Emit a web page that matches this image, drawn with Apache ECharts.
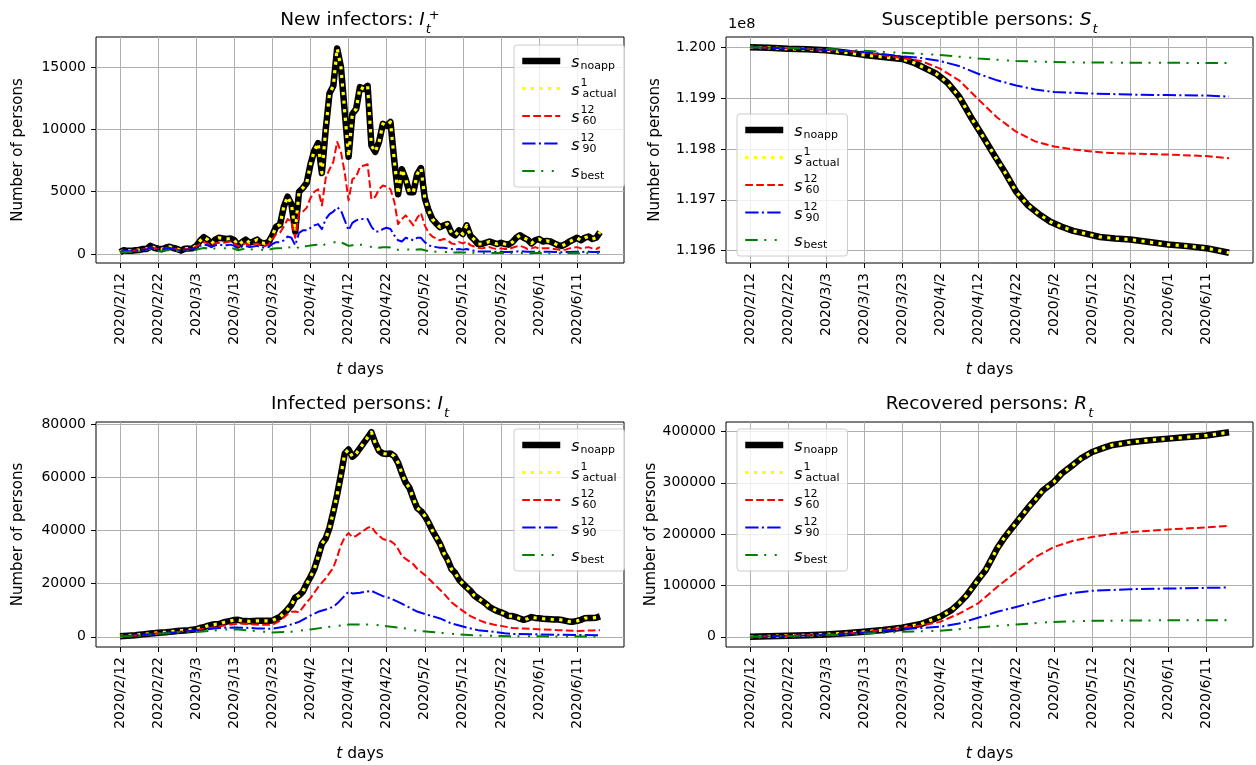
<!DOCTYPE html>
<html>
<head>
<meta charset="utf-8">
<script src="https://cdn.jsdelivr.net/npm/echarts@6/dist/echarts.min.js"></script>
<style>
html,body{margin:0;padding:0;background:#ffffff;}
#chart{width:1256px;height:765px;}
</style>
</head>
<body>
<div id="chart"></div>
<script>
// ---------------- DATA ----------------
const startYear = 2020, startMonth = 2, startDay = 12;     // day 0 = 2020/2/12
const xTickDays = [0,10,20,30,40,50,60,70,80,90,100,110,120];
const seriesNames = ['noapp','actual','s60','s90','best'];

// Panel 1: New infectors I_t^+ (daily, day 0..126)
const newInf_noapp = [150,300,250,250,300,320,400,400,650,500,
 420,380,500,580,480,400,270,420,430,450,
 650,1050,1350,1150,800,1150,1300,1250,1200,1250,
 1100,700,950,1150,900,1000,1150,900,850,950,
 1500,2200,2350,3800,4600,4000,1800,5000,5300,5700,
 7200,8300,8900,6500,10000,12900,13500,16500,15000,11400,
 7800,11250,11650,13400,13250,13500,8700,8200,9000,10450,
 10300,10600,7500,4800,6800,6000,4950,4950,6400,6900,
 4500,3500,2800,2450,2150,2300,2400,1700,1500,1900,
 1600,2300,1450,1150,800,800,900,1000,900,800,
 900,800,750,950,1300,1500,1300,1150,850,1100,
 1200,1000,1050,1000,850,700,650,800,1000,1150,
 1300,1100,1300,1400,1200,1300,1750];
const newInf_actual = [150,300,250,250,300,320,400,400,650,500,
 420,380,500,580,480,400,270,420,430,450,
 650,1050,1350,1150,800,1150,1300,1250,1200,1250,
 1100,700,950,1150,900,1000,1150,900,850,950,
 1500,2200,2350,3800,4600,4000,1800,5000,5300,5700,
 7200,8300,8900,6500,10000,12900,13500,16500,15000,11400,
 7800,11250,11650,13400,13250,13500,8700,8200,9000,10450,
 10300,10600,7500,4800,6800,6000,4950,4950,6400,6900,
 4500,3500,2800,2450,2150,2300,2400,1700,1500,1900,
 1600,2300,1450,1150,800,800,900,1000,900,800,
 900,800,750,950,1300,1500,1300,1150,850,1100,
 1200,1000,1050,1000,850,700,650,800,1000,1150,
 1300,1100,1300,1400,1200,1300,1750];
const newInf_s60 = [150,280,230,230,280,300,370,370,600,460,
 390,350,460,530,440,370,250,380,400,420,
 600,800,950,850,650,850,900,900,950,1000,
 850,600,750,850,700,800,850,700,650,750,
 1200,1600,1700,2200,2800,2600,1300,3300,3400,3700,
 4500,5000,5200,3900,6100,6800,7400,9000,8200,6500,
 4300,6000,6200,7000,7100,7200,4400,4600,5200,5500,
 5400,5200,4200,2400,2800,3100,2700,2300,2900,3300,
 2300,1700,1400,1250,1100,1200,1100,850,800,950,
 850,1000,700,600,500,450,500,550,450,400,
 450,400,400,500,600,650,550,400,450,550,
 450,450,450,450,400,350,300,350,450,500,
 550,450,500,550,450,400,550];
const newInf_s90 = [150,270,220,220,260,280,340,340,550,420,
 360,330,420,480,400,340,240,340,360,380,
 500,650,750,700,550,700,750,700,700,750,
 650,450,600,650,550,600,650,550,500,550,
 800,950,950,1100,1400,1300,700,1700,1900,1900,
 2100,2300,2400,2000,2800,3200,3400,3750,3500,2700,
 1900,2500,2700,2800,2800,2800,2200,1800,1800,2000,
 2100,2000,1500,1100,1000,1300,1200,1100,1300,1300,
 950,700,600,550,500,500,450,400,350,400,
 350,400,300,250,200,200,200,200,180,170,
 180,160,160,180,200,220,200,170,170,190,
 180,170,170,170,160,150,140,150,160,170,
 180,160,170,180,160,150,180];
const newInf_best = [100,180,160,160,180,190,230,230,350,280,
 240,220,280,320,270,230,170,230,250,260,
 330,420,480,450,360,450,480,460,450,480,
 420,300,380,420,350,380,400,340,320,340,
 420,450,450,500,550,520,300,600,620,630,
 680,720,740,650,800,880,920,1000,950,800,
 650,700,730,750,740,730,550,480,500,540,
 540,520,420,330,320,380,350,320,360,380,
 300,230,200,180,160,160,150,130,120,130,
 120,130,100,90,80,80,80,80,75,70,
 70,65,65,70,75,80,75,65,65,70,
 70,65,65,65,60,55,55,55,60,65,
 65,60,65,70,60,55,65];

// Panel 2: Susceptible persons S_t
const sus_noapp_days = [0,5,10,15,20,25,30,35,40,43,46,49,52,55,58,61,64,67,70,73,76,79,82,85,88,92,96,100,105,110,115,120,126];
const sus_noapp = [120000000,119999000,119997000,119996000,119994000,119990000,119985000,119981000,119977000,119970000,119959000,119948000,119930000,119903000,119864000,119828000,119791000,119755000,119716000,119690000,119672000,119657000,119647000,119639000,119634000,119627000,119624000,119622000,119617000,119612000,119609000,119605000,119596000];
const sus_actual_days = [0,5,10,15,20,25,30,35,40,43,46,49,52,55,58,61,64,67,70,73,76,79,82,85,88,92,96,100,105,110,115,120,126];
const sus_actual = [120000000,119999000,119997000,119996000,119994000,119990000,119985000,119981000,119977000,119970000,119959000,119948000,119930000,119903000,119864000,119828000,119791000,119755000,119716000,119690000,119672000,119657000,119647000,119639000,119634000,119627000,119624000,119622000,119617000,119612000,119609000,119605000,119596000];
const sus_s60_days = [0,10,20,30,40,45,50,55,60,65,70,75,80,85,90,95,100,110,120,126];
const sus_s60 = [120000000,119998000,119995000,119990000,119979000,119973000,119958000,119935000,119898000,119862000,119834000,119815000,119805000,119799000,119795000,119792000,119791000,119789000,119786000,119782000];
const sus_s90_days = [0,20,30,40,45,50,55,60,65,70,75,80,90,100,110,120,126];
const sus_s90 = [120000000,119995000,119991000,119982000,119979000,119973000,119963000,119948000,119935000,119925000,119917000,119912000,119909000,119907000,119906000,119905000,119903000];
const sus_best_days = [0,20,30,40,50,60,70,80,90,126];
const sus_best = [120000000,119997000,119993000,119989000,119985000,119978000,119973000,119971000,119970000,119969000];

// Panel 3: Infected persons I_t
const inf_noapp = [200,300,400,500,600,750,900,1050,1200,1350,
 1500,1600,1700,1850,2000,2150,2300,2400,2500,2650,
 2800,3300,3600,4100,4500,4700,4800,5300,5700,6000,
 6300,6400,5950,5900,5800,5900,6000,6000,6000,6000,
 6100,6800,7500,8800,10300,12000,14750,15600,17000,20000,
 22500,25500,30000,35000,37000,41000,47000,53500,61000,69000,
 70500,67800,69000,71000,73000,75000,77000,73000,70000,69000,
 68800,69000,68000,65500,61500,58000,56000,52000,48500,47300,
 45500,43000,40000,37500,35000,31500,29000,25500,24000,21500,
 20000,18600,17300,15500,14500,13500,12500,11200,10400,9700,
 9200,8600,7800,7800,7400,6800,6400,6800,7400,7100,
 7000,6800,6700,6600,6500,6500,6300,6000,5700,5700,
 6000,6400,7000,7100,7100,7200,7700];
const inf_actual = [200,300,400,500,600,750,900,1050,1200,1350,
 1500,1600,1700,1850,2000,2150,2300,2400,2500,2650,
 2800,3300,3600,4100,4500,4700,4800,5300,5700,6000,
 6300,6400,5950,5900,5800,5900,6000,6000,6000,6000,
 6100,6800,7500,8800,10300,12000,14750,15600,17000,20000,
 22500,25500,30000,35000,37000,41000,47000,53500,61000,69000,
 70500,67800,69000,71000,73000,75000,77000,73000,70000,69000,
 68800,69000,68000,65500,61500,58000,56000,52000,48500,47300,
 45500,43000,40000,37500,35000,31500,29000,25500,24000,21500,
 20000,18600,17300,15500,14500,13500,12500,11200,10400,9700,
 9200,8600,7800,7800,7400,6800,6400,6800,7400,7100,
 7000,6800,6700,6600,6500,6500,6300,6000,5700,5700,
 6000,6400,7000,7100,7100,7200,7700];
const inf_s60_days = [0,5,10,15,20,24,28,31,34,37,40,42,44,45,46,47,49,50,52,54,56,57,58,59,60,61,62,63,64,65,66,67,68,69,70,71,72,73,74,75,77,78,80,82,84,85,87,89,91,92,94,96,98,100,103,106,110,115,120,124,126];
const inf_s60 = [200,600,1300,1800,2500,3400,4400,5000,4800,4500,4500,6000,8500,9400,9500,9200,13000,14500,18700,22000,26000,30000,34500,37500,39000,37500,38000,39000,40000,41000,41500,39400,38000,36800,36400,36000,35000,33000,30500,29300,27300,25600,23300,20500,17700,16300,13000,10800,8700,7800,6400,5300,4600,4100,3300,3100,2800,2500,2200,2400,2500];
const inf_s90_days = [0,5,11,16,21,26,30,33,36,40,43,47,50,52,54,56,57,58,60,61,63,66,67,69,71,73,76,78,80,84,87,91,94,98,101,103,110,120,126];
const inf_s90 = [200,550,1250,1800,2500,3300,3500,3400,3150,3000,3750,5600,8000,9400,10250,11300,12500,14000,17000,16300,16600,17300,16600,15300,14500,13100,11000,9500,8600,6900,5000,3500,2500,1900,1300,1050,900,650,600];
const inf_best_days = [0,5,11,16,21,28,31,35,40,45,50,55,60,66,70,75,78,84,89,94,100,110,126];
const inf_best = [100,400,1250,1500,1900,2750,2700,2250,1600,1900,2750,3750,4600,4600,4000,3100,2250,1500,900,500,250,150,50];

// Panel 4: Recovered persons R_t
const rec_noapp_days = [0,5,10,15,20,25,30,35,40,45,50,53,55,57,60,62,65,67,70,73,75,77,80,82,85,87,90,93,95,100,105,110,115,120,126];
const rec_noapp = [0,800,2000,3000,4500,6800,9700,13000,17500,25000,39000,52000,65000,81000,111000,130000,172000,194000,222000,250000,267000,285000,302000,318000,335000,347000,360000,368000,373000,379000,383000,386000,389000,392000,398500];
const rec_actual_days = [0,5,10,15,20,25,30,35,40,45,50,53,55,57,60,62,65,67,70,73,75,77,80,82,85,87,90,93,95,100,105,110,115,120,126];
const rec_actual = [0,800,2000,3000,4500,6800,9700,13000,17500,25000,39000,52000,65000,81000,111000,130000,172000,194000,222000,250000,267000,285000,302000,318000,335000,347000,360000,368000,373000,379000,383000,386000,389000,392000,398500];
const rec_s60_days = [0,10,20,30,40,45,50,55,60,65,70,75,80,85,90,95,100,110,120,126];
const rec_s60 = [0,2000,4000,9000,17000,22000,29000,45000,65000,97000,126000,155000,175000,187000,194500,200000,204000,209000,213000,216000];
const rec_s90_days = [0,10,20,30,40,45,50,55,60,65,70,75,80,85,90,100,110,120,126];
const rec_s90 = [0,1500,3500,8000,15000,17000,19500,26000,37000,48600,58000,68000,78000,85500,89500,92700,94000,95300,96000];
const rec_best_days = [0,10,20,30,40,50,60,70,80,90,100,126];
const rec_best = [0,1200,3000,6000,9700,11700,18000,24000,29000,31000,31800,32400];

// tick labels of the y axes
const yTicksNew = [0,5000,10000,15000];
const yTicksSus = [119600000,119700000,119800000,119900000,120000000];
const yTicksInf = [0,20000,40000,60000,80000];
const yTicksRec = [0,100000,200000,300000,400000];

// ---------------- STYLE / LAYOUT ----------------
const F = 'DejaVu Sans';
const lineStyles = {
  noapp:  {color:'#000000', width:6.5, type:'solid'},
  actual: {color:'#ffff00', width:3.2, type:[3.2,5.4]},
  s60:    {color:'#ff0000', width:2,   type:[7.7,3.3]},
  s90:    {color:'#0000ff', width:2,   type:[13.3,3.3,2.1,3.3]},
  best:   {color:'#008000', width:2,   type:[12.5,6.5,2,8.5,2,6.5]}
};
const grids = [
  {left:96,  top:37,  width:528, height:226},
  {left:726, top:37,  width:527, height:226},
  {left:96,  top:422, width:528, height:225},
  {left:726, top:422, width:527, height:225}
];
const yRanges = [[-725,17425],[119575800,120020200],[-3850,80850],[-19925,418400]];
const yTicks = [yTicksNew, yTicksSus, yTicksInf, yTicksRec];
const legendPos = [[514,45],[737,114],[514,429],[737,429]];
const yNameGaps = [70, 63, 70, 63];

function dayLabel(d){
  const dt = new Date(Date.UTC(startYear, startMonth-1, startDay + Math.round(d)));
  return dt.getUTCFullYear() + '/' + (dt.getUTCMonth()+1) + '/' + dt.getUTCDate();
}
function pairs(days, vals){ return vals.map((v,i)=>[days ? days[i] : i, v]); }

const panelData = [
  {noapp:pairs(null,newInf_noapp), actual:pairs(null,newInf_actual), s60:pairs(null,newInf_s60), s90:pairs(null,newInf_s90), best:pairs(null,newInf_best)},
  {noapp:pairs(sus_noapp_days,sus_noapp), actual:pairs(sus_actual_days,sus_actual), s60:pairs(sus_s60_days,sus_s60), s90:pairs(sus_s90_days,sus_s90), best:pairs(sus_best_days,sus_best)},
  {noapp:pairs(null,inf_noapp), actual:pairs(null,inf_actual), s60:pairs(inf_s60_days,inf_s60), s90:pairs(inf_s90_days,inf_s90), best:pairs(inf_best_days,inf_best)},
  {noapp:pairs(rec_noapp_days,rec_noapp), actual:pairs(rec_actual_days,rec_actual), s60:pairs(rec_s60_days,rec_s60), s90:pairs(rec_s90_days,rec_s90), best:pairs(rec_best_days,rec_best)}
];

const titleRich = {
  m:   {fontFamily:F, fontSize:18.5, fontWeight:'normal', color:'#000', lineHeight:27, verticalAlign:'top', padding:[2,0,0,0], align:'left'},
  i:   {fontFamily:F, fontSize:18.5, fontWeight:'normal', fontStyle:'italic', color:'#000', lineHeight:27, verticalAlign:'top', padding:[2,0,0,0], align:'left'},
  sb:  {fontFamily:F, fontSize:13, fontWeight:'normal', fontStyle:'italic', color:'#000', verticalAlign:'bottom', align:'left', padding:[0,0,0,1]},
  sb1: {fontFamily:F, fontSize:13, fontWeight:'normal', fontStyle:'italic', color:'#000', verticalAlign:'bottom', align:'left', width:1, padding:[0,0,0,1]},
  sup: {fontFamily:F, fontSize:13, fontWeight:'normal', color:'#000', verticalAlign:'top', align:'left', padding:[0,0,0,2]}
};
const titleTexts = [
  '{m|New infectors: }{i|I}{sb1|t}{sup|+}',
  '{m|Susceptible persons: }{i|S}{sb|t}',
  '{m|Infected persons: }{i|I}{sb|t}',
  '{m|Recovered persons: }{i|R}{sb|t}'
];
const titleTops = [9, 9, 393, 393];

const legendLabel = {
  noapp:  '{s|s}{sub|noapp}',
  actual: '{s|s}{sup|1}{sub|actual}',
  s60:    '{s|s}{sup|12}{sub|60}',
  s90:    '{s|s}{sup|12}{sub|90}',
  best:   '{s|s}{sub|best}'
};
const legendRich = {
  s:   {fontFamily:F, fontSize:16, fontStyle:'italic', color:'#000', lineHeight:22, verticalAlign:'top', padding:[5,0,0,6], align:'left'},
  sup: {fontFamily:F, fontSize:11, color:'#000', verticalAlign:'top', align:'left', width:1, padding:[0,0,0,1]},
  sub: {fontFamily:F, fontSize:11, color:'#000', verticalAlign:'bottom', align:'left', padding:[0,0,0,1]}
};

const option = {
  animation:false,
  backgroundColor:'#ffffff',
  title: titleTexts.map((t,k)=>({
    text:t, left: grids[k].left + grids[k].width/2, top: titleTops[k], textAlign:'center', padding:0,
    textStyle:{fontWeight:'normal', fontFamily:F, color:'#000', rich:titleRich}
  })),
  graphic:[{type:'text', left:728, top:17, style:{text:'1e8', fontFamily:F, fontSize:14.5, fill:'#000'}}],
  grid: grids.map(g=>Object.assign({show:true, borderColor:'#000', borderWidth:1, backgroundColor:'rgba(0,0,0,0)', containLabel:false, outerBoundsMode:'none'}, g)),
  legend: legendPos.map(p=>({
    orient:'vertical', left:p[0], top:p[1], itemWidth:38, itemHeight:22, itemGap:5.5,
    padding:[5,8,5,5], backgroundColor:'rgba(255,255,255,0.8)', borderColor:'#cccccc', borderWidth:1, borderRadius:3,
    selectedMode:false,
    data: seriesNames.map(n=>({name:n, itemStyle:{opacity:0},
      lineStyle:{color:lineStyles[n].color, width:lineStyles[n].width, type:lineStyles[n].type, cap:'butt'}})),
    formatter: n => legendLabel[n],
    textStyle:{color:'#000', fontFamily:F, rich:legendRich}
  })),
  xAxis: grids.map((g,k)=>({
    gridIndex:k, type:'value', min:-6.3, max:132.3,
    axisLine:{show:false, onZero:false},
    axisTick:{show:true, length:5, lineStyle:{color:'#000', width:1}, customValues:xTickDays},
    axisLabel:{show:true, rotate:90, margin:10, customValues:xTickDays, formatter:v=>dayLabel(v), fontFamily:F, fontSize:14, color:'#000'},
    splitLine:{show:true, lineStyle:{color:'#b0b0b0', width:1}},
    name:'{i|t} days', nameLocation:'middle', nameGap:99,
    nameTextStyle:{fontFamily:F, fontSize:15.5, color:'#000', rich:{i:{fontFamily:F, fontSize:15.5, fontStyle:'italic', color:'#000'}}}
  })),
  yAxis: grids.map((g,k)=>({
    gridIndex:k, type:'value', min:yRanges[k][0], max:yRanges[k][1],
    axisLine:{show:false, onZero:false},
    axisTick:{show:true, length:5, lineStyle:{color:'#000', width:1}, customValues:yTicks[k]},
    axisLabel:{show:true, margin:10, customValues:yTicks[k], fontFamily:F, fontSize:14, color:'#000',
      formatter: v => k===1 ? (v/1e8).toFixed(3) : String(Math.round(v))},
    splitLine:{show:true, lineStyle:{color:'#b0b0b0', width:1}},
    name:'Number of persons', nameLocation:'middle', nameGap: yNameGaps[k],
    nameTextStyle:{fontFamily:F, fontSize:15, color:'#000'}
  })),
  series: []
};
panelData.forEach((pd,k)=>{
  seriesNames.forEach(n=>{
    const ls = lineStyles[n];
    option.series.push({
      type:'line', name:n, xAxisIndex:k, yAxisIndex:k, data:pd[n],
      symbol:'none', showSymbol:false, silent:true, animation:false,
      itemStyle:{color:ls.color},
      lineStyle:{color:ls.color, width:ls.width, type:ls.type, cap:'butt', join:'round'}
    });
  });
});

const chart = echarts.init(document.getElementById('chart'), null, {renderer:'canvas'});
chart.setOption(option);
</script>
</body>
</html>
